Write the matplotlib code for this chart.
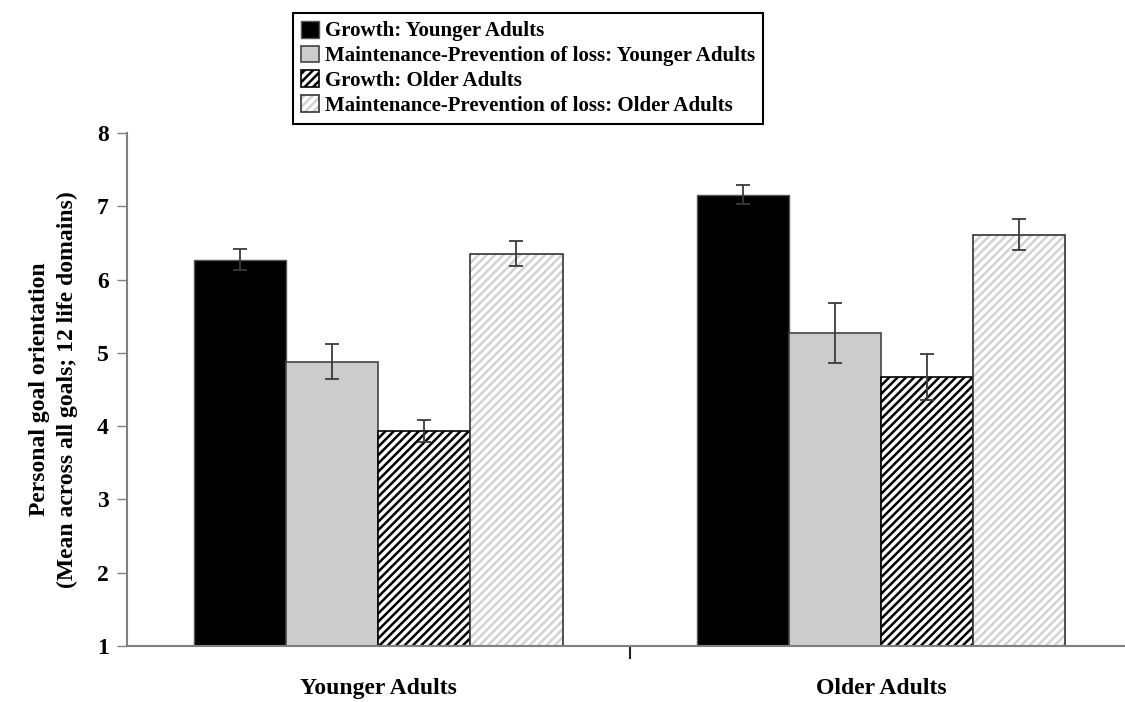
import numpy as np
import matplotlib
matplotlib.use("Agg")
import matplotlib.pyplot as plt
from matplotlib.colors import to_rgba

plt.rcParams['font.family'] = ['Liberation Serif', 'DejaVu Serif']
plt.rcParams['font.weight'] = 'bold'
plt.rcParams['hatch.linewidth'] = 1.8

groups = ["Younger Adults", "Older Adults"]
series = ["Growth: Younger Adults",
          "Maintenance-Prevention of loss: Younger Adults",
          "Growth: Older Adults",
          "Maintenance-Prevention of loss: Older Adults"]
growth_young = [6.27, 7.16]
maint_young = [4.88, 5.27]
growth_old = [3.94, 4.67]
maint_old = [6.35, 6.61]
err_growth_young = [0.14, 0.13]
err_maint_young = [0.24, 0.41]
err_growth_old = [0.15, 0.31]
err_maint_old = [0.17, 0.21]

values = [growth_young, maint_young, growth_old, maint_old]
errors = [err_growth_young, err_maint_young, err_growth_old, err_maint_old]

fig = plt.figure(figsize=(11.25, 7.02), dpi=100)
ax = fig.add_axes([0.1129, 0.0798, 0.894, 0.7308])

x = np.arange(len(groups))
w = 0.183
offsets = (np.arange(4) - 1.5) * w
base = 1

handles = []
for i in range(4):
    vals = np.array(values[i]) - base
    pos = x + offsets[i]
    if i == 0:
        b = ax.bar(pos, vals, w, bottom=base, color='black', edgecolor='#555555', linewidth=1)
    elif i == 1:
        b = ax.bar(pos, vals, w, bottom=base, color='#cccccc', edgecolor='#444444', linewidth=1.2)
    elif i == 2:
        b = ax.bar(pos, vals, w, bottom=base, color='white', edgecolor='black', hatch='////', linewidth=1.2)
    else:
        b = ax.bar(pos, vals, w, bottom=base, color='white', edgecolor='#333333', hatch='////', linewidth=1.2)
        # light grey stripes, dark outline
        for p in b:
            p._hatch_color = to_rgba('#d2d2d2')
    ax.errorbar(pos, values[i], yerr=errors[i], fmt='none', ecolor='#3a3a3a',
                elinewidth=1.3, capsize=5, capthick=1.3)
    handles.append(b[0])

ax.set_ylim(1, 8)
ax.set_xlim(-0.5, 1.5)
ax.set_yticks(range(1, 9))
ax.tick_params(axis='y', direction='out', length=7, width=1, color='#808080', labelsize=17, pad=6)
ax.set_xticks(x)
ax.set_xticklabels(groups, fontsize=17)
ax.tick_params(axis='x', which='major', length=0, pad=23)
ax.set_xticks([0.5], minor=True)
ax.tick_params(axis='x', which='minor', direction='out', length=9, width=1.5, color='#222222')

for s in ['top', 'right']:
    ax.spines[s].set_visible(False)
for s in ['left', 'bottom']:
    ax.spines[s].set_color('#808080')
    ax.spines[s].set_linewidth(1.5)

ax.set_ylabel("Personal goal orientation\n(Mean across all goals; 12 life domains)",
              fontsize=17, fontweight='bold', labelpad=14, linespacing=1.4)

leg = fig.legend(handles, series, loc='upper left', bbox_to_anchor=(0.26, 0.982),
                 fontsize=15,
                 handlelength=0.85, handleheight=0.85, handletextpad=0.3,
                 labelspacing=0.2, borderpad=0.4, fancybox=False, framealpha=1,
                 edgecolor='black', borderaxespad=0)
leg.get_frame().set_linewidth(1.5)

fig.savefig("out.png", dpi=100)
